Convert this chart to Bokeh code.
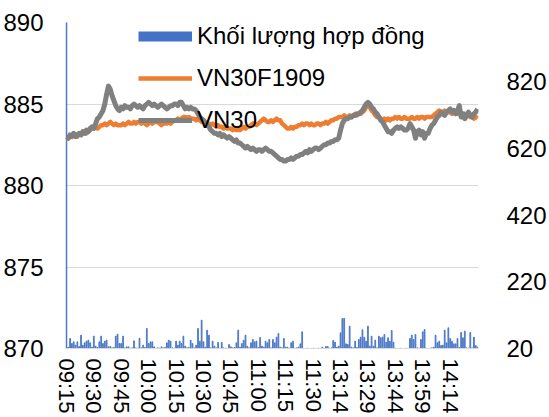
from bokeh.plotting import figure
from bokeh.models import Range1d, LinearAxis, FixedTicker, Legend, LegendItem
from bokeh.embed import file_html
from bokeh.resources import INLINE

# ---- categories (one per minute of trading) ----
morning = [f"{h:02d}:{m:02d}" for h in (9, 10, 11) for m in range(60)
           if (9, 15) <= (h, m) <= (11, 30)]
afternoon = [f"{h:02d}:{m:02d}" for h in (13, 14) for m in range(60)
             if (h, m) <= (14, 29)]
times = morning + afternoon

# ---- series ----
vn30 = [
    883.0, 882.9, 883.1, 883.0, 883.2, 883.0, 883.1, 883.2, 883.1, 883.3,
    883.2, 883.4, 883.3, 883.5, 883.6, 883.5, 883.8, 884.1, 884.2, 884.4,
    884.6, 885.0, 885.6, 886.1, 885.9, 885.5, 885.2, 884.9, 884.7, 884.6,
    884.8, 884.7, 884.9, 884.8, 884.8, 884.7, 884.9, 885.0, 884.9, 884.8,
    884.9, 884.8, 884.7, 884.9, 885.0, 885.1, 885.0, 884.9, 885.0, 884.9,
    884.8, 884.9, 885.0, 884.9, 884.8, 884.7, 884.8, 884.9, 884.9, 885.0,
    885.0, 884.9, 885.1, 885.1, 884.9, 884.7, 884.8, 884.7, 884.8, 884.7,
    884.7, 884.6, 884.4, 884.2, 884.1, 884.0, 883.8, 883.7, 883.6, 883.4,
    883.3, 883.2, 883.2, 883.1, 883.2, 883.0, 883.1, 883.0, 882.9, 883.0,
    882.9, 882.8, 882.7, 882.8, 882.6, 882.6, 882.5, 882.4, 882.3, 882.4,
    882.3, 882.2, 882.3, 882.2, 882.1, 882.2, 882.2, 882.1, 882.2, 882.3,
    882.2, 882.1, 882.1, 882.0, 881.9, 881.8, 881.7, 881.6, 881.6, 881.5,
    881.5, 881.6, 881.6, 881.7, 881.6, 881.7, 881.8, 881.8, 881.9, 881.9,
    882.0, 882.1, 882.0, 882.2, 882.1, 882.2, 882.3, 882.3, 882.2, 882.3,
    882.4, 882.5, 882.5, 882.6, 882.6, 882.7, 882.7, 882.8, 882.8, 882.9,
    883.4, 883.8, 884.0, 884.1, 884.1, 884.2, 884.2, 884.3, 884.3, 884.4,
    884.4, 884.5, 884.6, 884.8, 885.0, 885.1, 885.0, 884.8, 884.7, 884.5,
    884.4, 884.2, 884.0, 883.9, 883.7, 883.5, 883.3, 883.3, 883.2, 883.4,
    883.5, 883.6, 883.5, 883.6, 883.5, 883.4, 883.4, 883.5, 883.8, 883.6,
    883.4, 882.9, 883.3, 883.4, 883.1, 883.3, 882.9, 883.2, 883.2, 883.5,
    883.7, 883.8, 884.0, 884.2, 884.3, 884.5, 884.4, 884.3, 884.5, 884.6,
    884.7, 884.5, 884.6, 884.4, 884.6, 884.9, 884.2, 884.4, 884.1, 884.3,
    884.5, 884.3, 884.2, 884.4, 884.5, 884.7,
]

vn30f1909 = [
    882.9, 882.9, 883.0, 883.0, 883.1, 883.1, 883.0, 883.2, 883.2, 883.3,
    883.3, 883.2, 883.4, 883.4, 883.5, 883.5, 883.6, 883.5, 883.6, 883.7,
    883.7, 883.8, 883.7, 883.8, 883.9, 883.8, 883.7, 883.8, 883.7, 883.7,
    883.7, 883.8, 883.7, 883.8, 883.9, 883.8, 883.8, 883.9, 883.8, 883.9,
    883.9, 883.8, 883.9, 883.8, 883.7, 883.8, 883.9, 883.8, 883.9, 883.9,
    883.9, 883.8, 883.7, 883.8, 883.8, 883.8, 883.9, 883.8, 883.9, 884.0,
    884.0, 884.1, 884.0, 884.1, 884.2, 884.2, 884.1, 884.2, 884.1, 884.1,
    884.1, 884.0, 884.1, 884.0, 883.9, 884.0, 883.9, 883.8, 883.8, 883.7,
    883.8, 883.7, 883.6, 883.7, 883.6, 883.6, 883.5, 883.6, 883.5, 883.5,
    883.5, 883.4, 883.5, 883.4, 883.4, 883.4, 883.5, 883.6, 883.5, 883.6,
    883.6, 883.7, 883.8, 883.8, 883.7, 883.8, 883.9, 884.0, 884.1, 884.0,
    883.9, 883.9, 884.0, 883.9, 884.0, 884.1, 884.0, 884.0, 883.8, 883.7,
    883.6, 883.5, 883.5, 883.6, 883.5, 883.6, 883.6, 883.7, 883.7, 883.8,
    883.7, 883.8, 883.8, 883.7, 883.8, 883.7, 883.7, 883.8, 883.8, 883.7,
    883.8, 883.8, 883.9, 883.8, 883.9, 884.0, 884.0, 884.1, 884.1, 884.2,
    884.2, 884.2, 884.3, 884.2, 884.2, 884.3, 884.2, 884.3, 884.4, 884.3,
    884.4, 884.4, 884.5, 884.6, 884.8, 884.9, 884.8, 884.6, 884.5, 884.3,
    884.2, 884.2, 884.1, 884.0, 884.1, 884.0, 884.1, 884.0, 884.1, 884.1,
    884.2, 884.1, 884.2, 884.1, 884.1, 884.2, 884.1, 884.1, 884.1, 884.2,
    884.1, 884.1, 884.2, 884.1, 884.2, 884.2, 884.1, 884.2, 884.2, 884.2,
    884.2, 884.3, 884.4, 884.5, 884.6, 884.5, 884.5, 884.6, 884.5, 884.5,
    884.5, 884.4, 884.5, 884.5, 884.4, 884.5, 884.4, 884.3, 884.4, 884.3,
    884.3, 884.2, 884.2, 884.1, 884.2, 884.1,
]

volume = [
    1200, 24, 50, 35, 40, 30, 40, 26, 60, 30,
    37, 42, 45, 37, 24, 57, 27, 23, 40, 57,
    35, 42, 45, 25, 26, 22, 23, 57, 63, 35,
    35, 57, 22, 25, 25, 21, 22, 43, 22, 21,
    51, 22, 30, 23, 80, 35, 40, 40, 25, 21,
    22, 21, 25, 22, 23, 37, 45, 42, 22, 21,
    42, 30, 42, 35, 57, 27, 22, 23, 45, 35,
    22, 30, 80, 42, 105, 40, 24, 75, 60, 22,
    42, 27, 22, 38, 21, 38, 22, 21, 20, 32,
    25, 22, 23, 37, 75, 24, 35, 45, 60, 27,
    22, 37, 47, 40, 42, 23, 53, 27, 24, 42,
    37, 47, 22, 47, 37, 54, 65, 24, 22, 50,
    24, 24, 21, 37, 42, 21, 22, 24, 34, 70,
    20, 20, 21, 20, 20, 21, 20, 20, 21, 20,
    24, 21, 26, 26, 21, 22, 44, 39, 24, 27,
    67, 110, 110, 34, 32, 87, 24, 22, 42, 23,
    47, 54, 76, 54, 42, 87, 27, 57, 27, 45,
    22, 57, 52, 54, 62, 39, 52, 42, 74, 39,
    21, 20, 20, 21, 20, 20, 21, 20, 50, 60,
    47, 62, 22, 21, 47, 70, 77, 21, 20, 21,
    22, 24, 60, 37, 42, 29, 30, 75, 37, 82,
    50, 42, 34, 34, 50, 23, 68, 52, 72, 22,
    21, 68, 22, 54, 29, 24,
]

left_ticks = [870, 875, 880, 885, 890]
right_ticks = [20, 220, 420, 620, 820]
label_every = 15
last_label_index = 210

series_names = ["Khối lượng hợp đồng", "VN30F1909", "VN30"]
colors = ["#4472C4", "#ED7D31", "#808080"]

n = len(times)
xs = list(range(n))
FONT = "Liberation Sans"
FS = "24px"

p = figure(frame_width=413, frame_height=326,
           x_range=Range1d(-0.5, n - 0.5), y_range=Range1d(870, 890),
           output_backend="svg", toolbar_location=None,
           min_border_left=57, min_border_right=63, min_border_top=22,
           min_border_bottom=0)
p.outline_line_color = None
p.background_fill_color = "white"
p.border_fill_color = "white"

p.extra_y_ranges = {"vol": Range1d(20, 997)}

# bars
p.vbar(x=xs, top=volume, bottom=20, width=0.45, color=colors[0],
       fill_alpha=0.85, line_alpha=0.85, y_range_name="vol")
# lines
l_fut = p.line(xs, vn30f1909, line_color=colors[1], line_width=4.5,
               line_join="round")
l_vn = p.line(xs, vn30, line_color=colors[2], line_width=5,
              line_join="round")
# legend-only line for the volume series (no visible points)
legend_vol = p.line(x=xs, y=[float("nan")] * n, line_color=colors[0],
                    line_width=10, y_range_name="vol")

# axes
p.yaxis.ticker = FixedTicker(ticks=left_ticks)
p.yaxis.axis_line_color = None
p.yaxis.major_tick_line_color = None
p.yaxis.minor_tick_line_color = None
p.yaxis.major_label_standoff = 16
p.yaxis.major_label_text_font = FONT
p.yaxis.major_label_text_font_size = FS
p.yaxis.major_label_text_color = "black"

raxis = LinearAxis(y_range_name="vol", ticker=FixedTicker(ticks=right_ticks))
raxis.axis_line_color = None
raxis.major_tick_line_color = None
raxis.minor_tick_line_color = None
raxis.major_label_standoff = 22
raxis.major_label_text_font = FONT
raxis.major_label_text_font_size = FS
raxis.major_label_text_color = "black"
p.add_layout(raxis, "right")

xt = list(range(0, last_label_index + 1, label_every))
p.xaxis.ticker = FixedTicker(ticks=xt)
p.xaxis.major_label_overrides = {i: times[i] for i in xt}
p.xaxis.major_label_orientation = "vertical"
p.xaxis.axis_line_color = "#D9D9D9"
p.xaxis.major_tick_line_color = None
p.xaxis.minor_tick_line_color = None
p.xaxis.major_label_standoff = 4
p.xaxis.major_label_text_font = FONT
p.xaxis.major_label_text_font_size = "22px"
p.xaxis.major_label_text_color = "black"

p.xgrid.visible = False
p.ygrid.grid_line_color = "#D9D9D9"
p.ygrid.grid_line_width = 1

legend = Legend(items=[
    LegendItem(label=series_names[0], renderers=[legend_vol]),
    LegendItem(label=series_names[1], renderers=[l_fut]),
    LegendItem(label=series_names[2], renderers=[l_vn]),
], location=(73, 214), glyph_width=54, glyph_height=20, label_height=20,
    spacing=14, padding=0, margin=0, label_standoff=5,
    background_fill_alpha=0, border_line_alpha=0,
    label_text_font=FONT, label_text_font_size=FS, label_text_color="black")
p.add_layout(legend)

open("out.html", "w").write(file_html(p, INLINE))
